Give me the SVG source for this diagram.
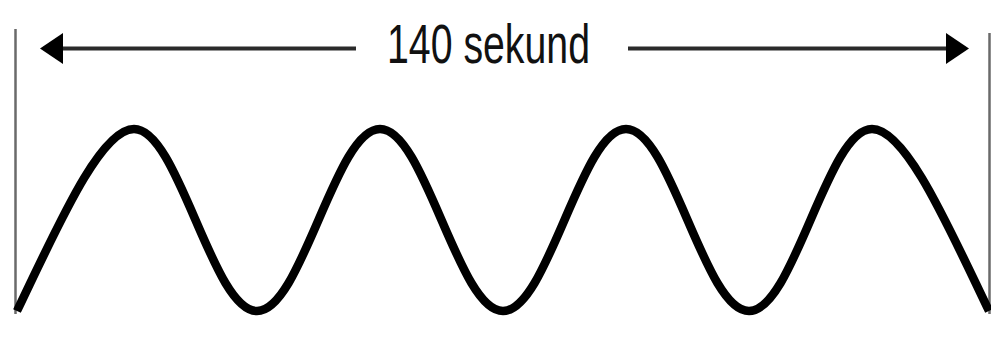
<svg xmlns="http://www.w3.org/2000/svg" width="991" height="342" viewBox="0 0 991 342">
  <style>
    .wave { fill: none; stroke: #000; stroke-width: 8.5; stroke-linecap: butt; stroke-linejoin: round; }
    .edge { stroke: #6a6a6a; stroke-width: 2.5; }
    .dim { stroke: #2a2a2a; stroke-width: 4; fill: none; }
    .head { fill: #000; }
    .label { font-family: "Liberation Sans", Arial, sans-serif; font-size: 55px; fill: #111; }
  </style>
  <rect width="991" height="342" fill="#fff"/>
  <g id="edges">
    <line class="edge" x1="15.5" y1="29" x2="15.5" y2="314"/>
    <line class="edge" x1="989.5" y1="33" x2="989.5" y2="314"/>
  </g>
  <g id="connectors">
    <line class="dim" x1="60" y1="48.5" x2="356" y2="48.5"/>
    <polygon class="head" points="40,48.5 63,33 63,64"/>
    <line class="dim" x1="628" y1="48.5" x2="950" y2="48.5"/>
    <polygon class="head" points="969,48.5 946,33 946,64"/>
  </g>
  <g id="label">
    <text class="label" x="488.5" y="63" text-anchor="middle" textLength="203" lengthAdjust="spacingAndGlyphs">140 sekund</text>
  </g>
  <g id="wave">
    <path class="wave" d="M17,311 C57,228 100,129 134,129
      C156.26,129 175.44,173.38 195.5,220 C215.56,266.62 234.74,311 257,311
      C279.26,311 298.44,266.62 318.5,220 C338.56,173.38 357.74,129 380,129
      C402.26,129 421.44,173.38 441.5,220 C461.56,266.62 480.74,311 503,311
      C525.26,311 544.44,266.62 564.5,220 C584.56,173.38 603.74,129 626,129
      C648.26,129 667.44,173.38 687.5,220 C707.56,266.62 726.74,311 749,311
      C771.26,311 790.44,266.62 810.5,220 C830.56,173.38 849.74,129 872,129
      C906,129 949,228 989,311"/>
  </g>
</svg>
